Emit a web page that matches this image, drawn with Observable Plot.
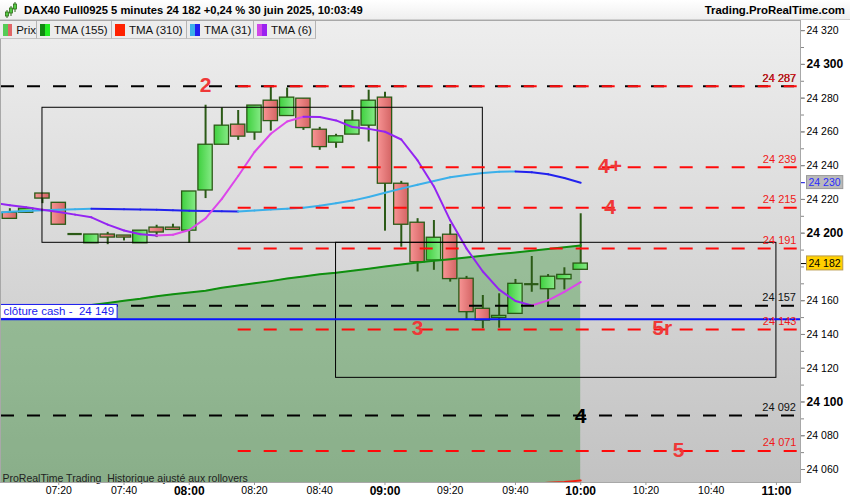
<!DOCTYPE html>
<html><head><meta charset="utf-8">
<script src="https://cdn.jsdelivr.net/npm/d3@7"></script>
<script src="https://cdn.jsdelivr.net/npm/@observablehq/plot@0.6"></script>
<style>
body{margin:0;width:850px;height:500px;overflow:hidden;background:#fff;font-family:"Liberation Sans",Arial,sans-serif}
#wrap{position:relative;width:850px;height:500px}
#hdr{position:absolute;left:0;top:0;width:850px;height:20px;background:linear-gradient(#ffffff,#efefef);box-sizing:border-box;border-bottom:1px solid #cfcfcf}
#hdr .t1{position:absolute;left:24px;top:3px;font-size:11.2px;font-weight:bold;line-height:14px;color:#000;white-space:pre}
#hdr .t2{position:absolute;right:5px;top:3px;font-size:11.4px;font-weight:bold;line-height:14px;color:#000}
#chart{position:absolute;left:0;top:20px}
#leg{position:absolute;left:0;top:21px;height:18px;display:flex;z-index:2}
#leg .tab{height:18px;box-sizing:border-box;background:#ececec;border-right:1px solid #b4b4b4;border-bottom:1px solid #c4c4c4;display:flex;align-items:center;font-size:11.5px;color:#111;white-space:pre}
#leg .ic{display:inline-block;width:5px;height:12px}
</style></head>
<body><div id="wrap">
<div id="hdr">
<svg width="14" height="18" style="position:absolute;left:4px;top:1px">
<line x1="3" y1="9" x2="3" y2="17" stroke="#2b6a16" stroke-width="1"/><rect x="1.5" y="11" width="3" height="4" fill="#55cc44" stroke="#2b6a16" stroke-width="0.8"/>
<line x1="7" y1="5" x2="7" y2="15" stroke="#2b6a16" stroke-width="1"/><rect x="5.5" y="7" width="3" height="5" fill="#55cc44" stroke="#2b6a16" stroke-width="0.8"/>
<line x1="11" y1="1" x2="11" y2="11" stroke="#2b6a16" stroke-width="1"/><rect x="9.5" y="3" width="3" height="5" fill="#55cc44" stroke="#2b6a16" stroke-width="0.8"/>
</svg>
<span class="t1" id="title"></span><span class="t2" id="site"></span>
</div>
<div id="chart"></div>
<div id="leg"></div>
</div>
<script>
// ---------- data ----------
const titleText = "DAX40 Full0925 5 minutes 24 182 +0,24 % 30 juin 2025, 10:03:49";
const siteText = "Trading.ProRealTime.com";
const legendNames = ["Prix", "TMA (155)", "TMA (310)", "TMA (31)", "TMA (6)"];
const legendIcons = [["#55cc55", "#e06666"], ["#118811", "#22ee22"], ["#ff2200", "#ff2200"], ["#3bb0ea", "#2020f0"], ["#d048e8", "#9a22f0"]];
const footerText = "ProRealTime Trading  Historique ajusté aux rollovers";

const candleTimes = ["07:05","07:10","07:15","07:20","07:25","07:30","07:35","07:40","07:45","07:50","07:55","08:00","08:05","08:10","08:15","08:20","08:25","08:30","08:35","08:40","08:45","08:50","08:55","09:00","09:05","09:10","09:15","09:20","09:25","09:30","09:35","09:40","09:45","09:50","09:55","10:00"];
const openP  = [24212.1,24212.1,24223.5,24218.0,24199.5,24194.0,24199.2,24198.6,24194.0,24203.3,24203.3,24201.5,24225.3,24252.4,24264.3,24259.6,24278.5,24269.4,24279.7,24261.3,24253.6,24258.4,24263.7,24280.3,24229.3,24206.2,24183.8,24199.1,24173.0,24155.2,24149.8,24152.2,24169.8,24166.8,24172.7,24178.3];
const highP  = [24214.5,24214.5,24223.5,24218.0,24199.5,24199.2,24200.5,24198.6,24201.5,24204.7,24205.3,24224.7,24275.8,24274.2,24272.7,24275.6,24286.5,24286.0,24279.7,24262.7,24258.6,24272.7,24284.7,24283.5,24230.7,24208.6,24207.5,24205.2,24174.4,24163.1,24164.1,24172.6,24186.2,24175.5,24179.5,24211.5];
const lowP   = [24208.5,24212.1,24217.5,24205.0,24199.5,24194.0,24193.2,24195.4,24194.0,24197.4,24201.9,24194.0,24220.5,24252.4,24255.0,24255.0,24260.5,24269.4,24260.9,24249.1,24250.3,24258.4,24254.0,24201.2,24191.7,24177.0,24178.0,24171.0,24148.7,24143.3,24143.7,24152.2,24165.0,24156.1,24166.4,24178.3];
const closeP = [24208.5,24214.5,24220.5,24205.0,24199.5,24199.2,24197.4,24197.4,24201.5,24200.4,24201.9,24224.7,24252.4,24263.7,24257.2,24275.6,24266.4,24280.3,24262.3,24251.0,24257.4,24266.7,24278.5,24229.3,24205.0,24182.8,24197.3,24172.8,24153.2,24148.2,24151.0,24170.0,24169.8,24174.2,24175.3,24182.0];

const maTimes = ["07:00"].concat(candleTimes);
const tma155 = [24150.0,24151.1,24152.4,24153.6,24154.9,24156.2,24157.5,24158.7,24160.0,24161.1,24162.7,24163.8,24164.9,24165.9,24167.7,24169.0,24170.3,24171.6,24173.1,24174.4,24175.7,24176.6,24177.8,24179.0,24180.2,24181.5,24182.6,24183.6,24184.6,24185.6,24186.6,24187.6,24188.6,24189.6,24190.6,24191.6,24192.7];
const tma310 = [24035.2,24035.7,24036.2,24036.6,24037.1,24037.5,24038.0,24038.4,24038.9,24039.4,24039.9,24040.3,24040.8,24041.4,24042.0,24042.6,24043.2,24043.8,24044.4,24045.0,24045.5,24046.0,24046.5,24047.0,24047.6,24048.1,24048.6,24049.0,24049.4,24049.8,24050.2,24050.6,24051.0,24051.6,24052.1,24052.6,24053.5];
const tma31  = [24212.0,24212.7,24213.2,24213.6,24213.9,24214.2,24214.5,24214.3,24214.2,24214.0,24213.9,24213.6,24213.3,24213.1,24213.0,24212.9,24213.4,24214.0,24214.5,24215.0,24216.3,24217.8,24219.3,24221.4,24223.9,24226.4,24228.7,24230.9,24233.1,24234.5,24235.6,24236.4,24236.6,24236.1,24234.9,24232.7,24229.9];
const tma6   = [24218.0,24216.6,24215.3,24213.9,24212.5,24211.0,24209.4,24205.1,24201.6,24199.4,24198.6,24199.1,24201.9,24208.8,24220.3,24233.9,24248.1,24258.9,24266.2,24269.0,24268.8,24266.8,24262.9,24261.8,24260.1,24255.5,24243.1,24227.7,24207.6,24190.9,24177.3,24166.6,24159.8,24157.2,24160.2,24165.2,24171.0];

const blackLevels = [24287, 24157, 24092];
const redLevels = [24287, 24239, 24215, 24191, 24143, 24071];
const redLevelsStart = "08:15";
const cashClose = 24149;
const cashLabel = "clôture cash -  24 149";
const currentPrice = 24182;

const boxStart = ["07:15", "08:45"];
const boxEnd   = ["09:30", "11:00"];
const boxLow   = [24194.3, 24114.3];
const boxHigh  = [24274.3, 24194.3];

const bigLabelText  = ["2", "4+", "4", "3", "5r", "5"];
const bigLabelTime  = ["08:05", "10:09", "10:09", "09:10", "10:25", "10:30"];
const bigLabelValue = [24287, 24239, 24215, 24143, 24143, 24071];
const blackLabelText = ["4"], blackLabelTime = ["10:00"], blackLabelValue = [24092];

const xTicks = ["07:20","07:40","08:20","08:40","09:20","09:40","10:20","10:40"];
const xTicksBold = ["08:00","09:00","10:00","11:00"];
const yTicks = [24060,24080,24120,24140,24160,24220,24240,24260,24280,24320];
const yTicksBold = [24100,24200,24300];
const yMinorTicks = [24060,24070,24080,24090,24100,24110,24120,24130,24140,24150,24160,24170,24180,24190,24200,24210,24220,24230,24240,24250,24260,24270,24280,24290,24300,24310,24320];

// ---------- build ----------
const T = s => new Date(Date.UTC(2025, 5, 30, +s.slice(0, 2), +s.slice(3, 5), s.length > 5 ? +s.slice(6, 8) : 0));
const xDomain = [T("07:02:08"), T("11:07:23")];
const yDomain = [24052.3, 24326.0];
const fmt = v => { const s = String(Math.round(v)); return s.slice(0, s.length - 3) + " " + s.slice(-3); };
const half = 150000; // half of 5 minutes in ms

document.getElementById("title").textContent = titleText;
document.getElementById("site").textContent = siteText;
const leg = d3.select("#leg");
const tabW = [37, 75, 75, 67, 62];
legendNames.forEach((n, i) => {
  const tab = leg.append("div").attr("class", "tab").style("width", tabW[i] + "px");
  tab.append("span").attr("class", "ic").style("margin-left", "3px").style("background", legendIcons[i][0]);
  tab.append("span").attr("class", "ic").style("background", legendIcons[i][1]);
  tab.append("span").style("margin-left", "4px").text(n);
});

const candles = candleTimes.map((t, i) => ({t: T(t), o: openP[i], h: highP[i], l: lowP[i], c: closeP[i]}));
const up = candles.filter(d => d.c > d.o), down = candles.filter(d => d.c < d.o), doji = candles.filter(d => d.c === d.o);
const ma = maTimes.map((t, i) => ({t: T(t), m155: tma155[i], m310: tma310[i], m31: tma31[i], m6: tma6[i]}));
const segs = key => ma.slice(1).map((d, i) => ({t1: ma[i].t, v1: ma[i][key], t2: d.t, v2: d[key], rising: d[key] >= ma[i][key]}));
const seg31 = segs("m31"), seg6 = segs("m6");
const boxes = boxStart.map((s, i) => ({x1: T(s), x2: T(boxEnd[i]), y1: boxLow[i], y2: boxHigh[i]}));
const bigLabels = bigLabelText.map((s, i) => ({s, t: T(bigLabelTime[i]), v: bigLabelValue[i]}));
const blackLabels = blackLabelText.map((s, i) => ({s, t: T(blackLabelTime[i]), v: blackLabelValue[i]}));
const maLast = tma31[tma31.length - 1];

const wickColor = "#2b5a16";
const chart = Plot.plot({
  width: 850, height: 480,
  marginTop: 0, marginRight: 50, marginBottom: 18, marginLeft: 0,
  style: {fontFamily: "Liberation Sans, Arial, sans-serif", fontSize: "10.5px", background: "white", overflow: "visible"},
  x: {type: "utc", domain: xDomain},
  y: {domain: yDomain},
  marks: [
    Plot.frame({fill: "url(#bgGrad)", stroke: "none"}),
    Plot.areaY(ma, {x: "t", y1: "m310", y2: "m155", fill: "#008000", fillOpacity: 0.29, clip: true}),
    Plot.line(ma, {x: "t", y: "m310", stroke: "#f02010", strokeWidth: 2, clip: true}),
    Plot.ruleX(candles, {x: "t", y1: "l", y2: "h", stroke: wickColor, strokeWidth: 2}),
    Plot.rect(up, {x1: d => new Date(+d.t - half), x2: d => new Date(+d.t + half), y1: "o", y2: "c", insetLeft: 1, insetRight: 1, fill: "url(#gUp)", stroke: wickColor, strokeWidth: 1.3}),
    Plot.rect(down, {x1: d => new Date(+d.t - half), x2: d => new Date(+d.t + half), y1: "o", y2: "c", insetLeft: 1, insetRight: 1, fill: "url(#gDown)", stroke: wickColor, strokeWidth: 1.3}),
    Plot.ruleY(doji, {y: "o", x1: d => new Date(+d.t - half * 0.88), x2: d => new Date(+d.t + half * 0.88), stroke: wickColor, strokeWidth: 2.2}),
    Plot.line(ma, {x: "t", y: "m155", stroke: "#0f8f0f", strokeWidth: 2, clip: true}),
    Plot.link(seg31, {x1: "t1", y1: "v1", x2: "t2", y2: "v2", stroke: d => d.rising ? "#3bb0ea" : "#2222ee", strokeWidth: 2, strokeLinecap: "round", clip: true}),
    Plot.link(seg6, {x1: "t1", y1: "v1", x2: "t2", y2: "v2", stroke: d => d.rising ? "#dc46ea" : "#9424f2", strokeWidth: 2, strokeLinecap: "round", clip: true}),
    Plot.rect(boxes, {x1: "x1", x2: "x2", y1: "y1", y2: "y2", fill: "none", stroke: "black", strokeWidth: 1}),
    Plot.ruleY(blackLevels, {y: d => d, stroke: "black", strokeWidth: 2, strokeDasharray: "13,13", strokeDashoffset: -1}),
    Plot.ruleY(redLevels, {y: d => d, x1: T(redLevelsStart), x2: xDomain[1], stroke: "#ff0a0a", strokeWidth: 2, strokeDasharray: "13,13"}),
    Plot.ruleY([cashClose], {y: d => d, stroke: "#0a14ff", strokeWidth: 2.2}),
    Plot.text(blackLevels, {y: d => d, text: fmt, frameAnchor: "right", textAnchor: "end", dx: -4.5, dy: -8, fill: "#111", fontSize: 11}),
    Plot.text(redLevels, {y: d => d, text: fmt, frameAnchor: "right", textAnchor: "end", dx: -4, dy: -8, fill: "#f01818", fontSize: 11}),
    Plot.text(bigLabels, {x: "t", y: "v", text: "s", fill: "#ef3838", fontSize: 21, fontWeight: "bold", dy: -1}),
    Plot.text(blackLabels, {x: "t", y: "v", text: "s", fill: "#000", fontSize: 21, fontWeight: "bold", dy: 1}),
    Plot.text([cashClose], {y: d => d, text: () => cashLabel, frameAnchor: "left", textAnchor: "start", dx: 3, dy: -7.5, fill: "#1a1aee", fontSize: 11.5}),
    Plot.text([footerText], {text: d => d, frameAnchor: "bottom-left", textAnchor: "start", lineAnchor: "bottom", dx: 2, dy: -1, fill: "#222", fontSize: 10.5}),
    Plot.frame({stroke: "#a8a8a8", fill: "none"}),
    Plot.axisY(yMinorTicks, {anchor: "right", tickSize: 3, tickFormat: () => "", stroke: "#888"}),
    Plot.axisY(yTicks, {anchor: "right", tickSize: 4, tickPadding: 2, tickFormat: fmt, stroke: "#888", fontSize: 10.5}),
    Plot.axisY(yTicksBold, {anchor: "right", tickSize: 4, tickPadding: 2, tickFormat: fmt, stroke: "#888", fontSize: 12, fontWeight: "bold"}),
    Plot.axisY([currentPrice], {anchor: "right", tickSize: 5, tickFormat: () => "", stroke: "#000"}),
    Plot.axisY([maLast], {anchor: "right", tickSize: 4, tickFormat: () => "", stroke: "#2222ee"}),
    Plot.text([currentPrice], {y: d => d, text: fmt, frameAnchor: "right", textAnchor: "start", dx: 8, fill: "#000", fontSize: 10.5}),
    Plot.text([maLast], {y: d => d, text: fmt, frameAnchor: "right", textAnchor: "start", dx: 8, fill: "#2a2aff", fontSize: 10.5}),
    Plot.axisX(xTicks.map(T), {tickSize: 3, tickPadding: 1, tickFormat: d3.utcFormat("%H:%M"), stroke: "#999", fontSize: 10.5}),
    Plot.axisX(xTicksBold.map(T), {tickSize: 3, tickPadding: 1, tickFormat: d3.utcFormat("%H:%M"), stroke: "#999", fontSize: 12, fontWeight: "bold"})
  ]
});
document.getElementById("chart").appendChild(chart);

// gradients
const svg = d3.select(chart);
const defs = svg.insert("defs", ":first-child");
function grad(id, c1, c2, vertical) {
  const g = defs.append("linearGradient").attr("id", id).attr("x1", 0).attr("y1", 0).attr("x2", vertical ? 0 : 1).attr("y2", vertical ? 1 : 0);
  g.append("stop").attr("offset", "0%").attr("stop-color", c1);
  g.append("stop").attr("offset", "100%").attr("stop-color", c2);
}
grad("bgGrad", "#eeeeee", "#c2c2c2", true);
grad("gUp", "#3fd03f", "#86ea86", false);
grad("gDown", "#f79494", "#d46464", false);

// label boxes behind the texts Plot placed (found by their content)
function boxBehind(content, fill, stroke, padX, padY, minW) {
  Array.from(chart.querySelectorAll("text")).filter(t => t.textContent === content).forEach(t => {
    const b = t.getBBox();
    const w = Math.max(b.width + 2 * padX, minW || 0);
    const r = document.createElementNS("http://www.w3.org/2000/svg", "rect");
    const tr = t.getAttribute("transform");
    if (tr) r.setAttribute("transform", tr);
    r.setAttribute("x", b.x - padX); r.setAttribute("y", b.y - padY);
    r.setAttribute("width", w); r.setAttribute("height", b.height + 2 * padY);
    r.setAttribute("fill", fill); r.setAttribute("stroke", stroke); r.setAttribute("stroke-width", 1);
    t.parentNode.insertBefore(r, t);
  });
}
boxBehind(fmt(currentPrice), "#ffd000", "#b89a50", 2, 1, 36);
boxBehind(fmt(maLast), "#bababa", "#9a9a9a", 2, 0.5, 36);
boxBehind(cashLabel, "#ffffff", "#1a1aee", 3, 1, 0);
</script>
</body></html>
